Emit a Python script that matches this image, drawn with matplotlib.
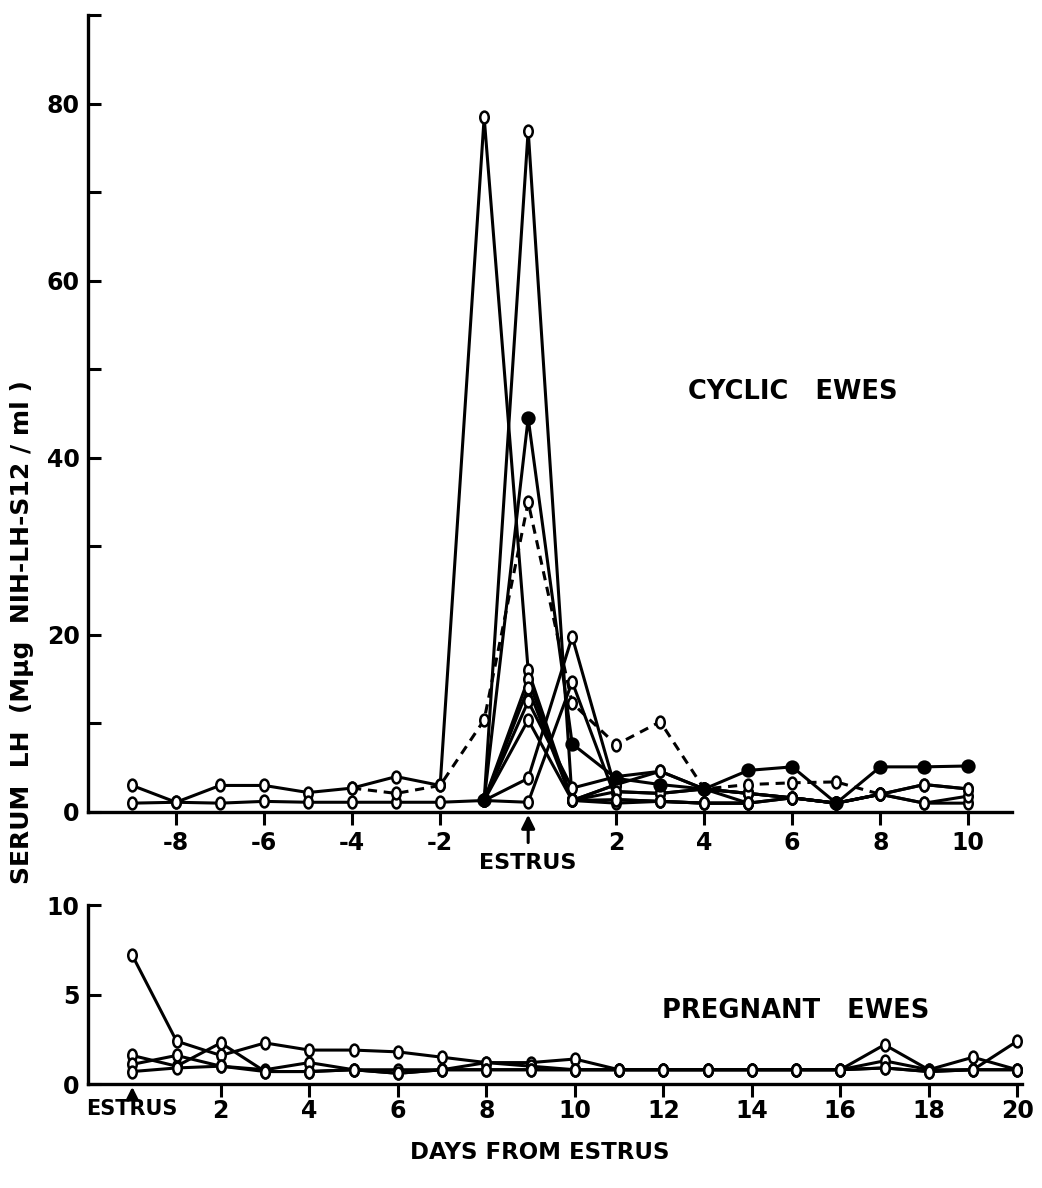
import numpy as np
import matplotlib
matplotlib.use("Agg")
import matplotlib.pyplot as plt
from matplotlib.path import Path
from matplotlib.transforms import Affine2D

nan = np.nan

# Cyclic ewes: serum LH by day from estrus (-9 .. 10)
cyclic_days = [-9, -8, -7, -6, -5, -4, -3, -2, -1, 0, 1, 2, 3, 4, 5, 6, 7, 8, 9, 10]
cyclic_a = [3.0, 1.1, 3.0, 3.0, 2.2, 2.7, 4.0, 3.0, 78.5, 16.0, 1.3, 3.1, 4.6, 2.6, 2.1, 1.6, 1.0, 2.0, 3.1, 2.6]
cyclic_b = [1.0, 1.1, 1.0, 1.2, 1.1, 1.1, 1.1, 1.1, 1.3, 77.0, 1.3, 1.0, 1.2, 1.0, 1.0, 1.6, 1.0, 2.0, 1.0, 1.0]
cyclic_dashed = [nan, nan, nan, nan, nan, 2.7, 2.1, 3.0, 10.4, 35.0, 12.3, 7.6, 10.2, 2.6, 3.1, 3.3, 3.4, 2.0, nan, nan]
cyclic_filled = [nan, nan, nan, nan, nan, nan, nan, nan, 1.3, 44.5, 7.7, 3.8, 3.1, 2.6, 4.7, 5.1, 1.0, 5.1, 5.1, 5.2]
cyclic_c = [nan, nan, nan, nan, nan, nan, nan, nan, 1.3, 15.0, 1.3, 2.3, 2.1, 2.6, 2.1, 1.6, 1.0, nan, nan, nan]
cyclic_d = [nan, nan, nan, nan, nan, nan, nan, nan, 1.3, 14.0, 1.3, 1.4, 1.2, 1.0, 1.0, nan, nan, nan, nan, nan]
cyclic_e = [nan, nan, nan, nan, nan, nan, nan, nan, 1.3, 12.5, 2.7, 4.0, 4.6, 2.6, 2.1, 1.6, 1.0, 2.0, 1.0, 1.8]
cyclic_f = [nan, nan, nan, nan, nan, nan, nan, nan, 1.3, 10.4, 1.3, 3.1, nan, nan, nan, nan, nan, nan, nan, nan]
cyclic_g = [nan, nan, nan, nan, nan, nan, nan, nan, 1.3, 3.8, 19.8, 2.3, 2.1, 2.6, 1.0, nan, nan, nan, nan, nan]
cyclic_h = [nan, nan, nan, nan, nan, nan, nan, nan, 1.3, 1.1, 14.7, 1.4, 1.2, 1.0, 1.0, 1.6, 1.0, 2.0, 3.1, 2.6]
cyclic_solid = [cyclic_a, cyclic_b, cyclic_c, cyclic_d, cyclic_e, cyclic_f, cyclic_g, cyclic_h]

# Pregnant ewes: days 0 .. 20 from estrus
pregnant_days = [0, 1, 2, 3, 4, 5, 6, 7, 8, 9, 10, 11, 12, 13, 14, 15, 16, 17, 18, 19, 20]
pregnant_a = [7.2, 2.4, 1.6, 2.3, 1.9, 1.9, 1.8, 1.5, 1.2, 1.2, 1.4, 0.8, 0.8, 0.8, 0.8, 0.8, 0.8, 2.2, 0.8, 1.5, 0.8]
pregnant_b = [1.6, 1.0, 2.3, 0.7, 0.7, 0.8, 0.6, 0.8, 1.2, 1.0, 0.8, 0.8, 0.8, 0.8, 0.8, 0.8, 0.8, 1.3, 0.8, 0.8, 2.4]
pregnant_c = [1.1, 1.6, 1.0, 0.8, 1.2, 0.8, 0.8, 0.8, 0.8, 0.8, 0.8, 0.8, 0.8, 0.8, 0.8, 0.8, 0.8, 0.9, 0.7, 0.8, 0.8]
pregnant_d = [0.7, 0.9, 1.0, 0.7, 0.7, 0.8, 0.6, 0.8, 0.8, 0.8, 0.8, 0.8, 0.8, 0.8, 0.8, 0.8, 0.8, 0.9, 0.7, 0.8, 0.8]
pregnant_series = [pregnant_a, pregnant_b, pregnant_c, pregnant_d]

top_xticks = [-8, -6, -4, -2, 2, 4, 6, 8, 10]
top_yticks = [0, 10, 20, 30, 40, 50, 60, 70, 80, 90]
top_ylabels = ['0', '', '20', '', '40', '', '60', '', '80', '']
bottom_xticks = [2, 4, 6, 8, 10, 12, 14, 16, 18, 20]
bottom_yticks = [0, 5, 10]

plt.rcParams['font.family'] = ['DejaVu Sans']
plt.rcParams['font.weight'] = 'bold'

# small upright oval, like the hand-drawn open circles
oval = Path.unit_circle().transformed(Affine2D().scale(0.72, 1.0))


def draw(ax, days, values, filled=False, dashed=False):
    ax.plot(days, values, color='black', lw=2.2,
            ls=(0, (3, 2.2)) if dashed else '-',
            marker='o' if filled else oval,
            ms=8.5 if filled else 8.5,
            mfc='black' if filled else 'white', mec='black', mew=1.8)


def style(ax, xpad):
    for side in ('top', 'right'):
        ax.spines[side].set_visible(False)
    for side in ('left', 'bottom'):
        ax.spines[side].set_linewidth(2.4)
    ax.tick_params(axis='x', direction='out', length=9, width=2.2, labelsize=17, pad=xpad)
    ax.tick_params(axis='y', direction='in', length=9, width=2.2, labelsize=17, pad=6)


fig = plt.figure(figsize=(10.42, 11.88), dpi=100)
ax1 = fig.add_axes([0.0845, 0.3165, 0.887, 0.6705])
ax2 = fig.add_axes([0.0845, 0.0875, 0.896, 0.1505])

for vals in cyclic_solid:
    draw(ax1, cyclic_days, vals)
draw(ax1, cyclic_days, cyclic_dashed, dashed=True)
draw(ax1, cyclic_days, cyclic_filled, filled=True)

ax1.set_xlim(-10, 11)
ax1.set_ylim(0, 90)
ax1.set_xticks(top_xticks)
ax1.set_xticklabels([str(t) for t in top_xticks])
ax1.set_yticks(top_yticks)
ax1.set_yticklabels(top_ylabels)
style(ax1, 5)
ax1.text(0.649, 0.527, 'CYCLIC   EWES', transform=ax1.transAxes, fontsize=18.5,
         ha='left', va='center')
ax1.annotate('', xy=(0, 0), xycoords=('data', 'axes fraction'),
             xytext=(0, -22), textcoords='offset points',
             arrowprops=dict(arrowstyle='-|>,head_length=0.5,head_width=0.25',
                             lw=2.2, color='black', shrinkA=0, shrinkB=2,
                             mutation_scale=16))
ax1.annotate('ESTRUS', xy=(0, 0), xycoords=('data', 'axes fraction'),
             xytext=(0, -37), textcoords='offset points',
             ha='center', va='center', fontsize=16)

for vals in pregnant_series:
    draw(ax2, pregnant_days, vals)
ax2.set_xlim(-1, 20.1)
ax2.set_ylim(0, 10)
ax2.set_xticks(bottom_xticks)
ax2.set_xticklabels([str(t) for t in bottom_xticks])
ax2.set_yticks(bottom_yticks)
style(ax2, 2)
ax2.text(0.615, 0.41, 'PREGNANT   EWES', transform=ax2.transAxes, fontsize=18.5,
         ha='left', va='center')
ax2.annotate('', xy=(0, 0), xycoords=('data', 'axes fraction'),
             xytext=(0, -11), textcoords='offset points',
             arrowprops=dict(arrowstyle='-|>,head_length=0.5,head_width=0.25',
                             lw=2.2, color='black', shrinkA=0, shrinkB=2,
                             mutation_scale=14))
ax2.annotate('ESTRUS', xy=(0, 0), xycoords=('data', 'axes fraction'),
             xytext=(0, -18), textcoords='offset points',
             ha='center', va='center', fontsize=15)

fig.text(0.021, 0.468, 'SERUM  LH  (M\u03bcg  NIH-LH-S12 / ml )', rotation=90,
         ha='center', va='center', fontsize=18)
fig.text(0.518, 0.030, 'DAYS FROM ESTRUS', ha='center', va='center', fontsize=16.5)

fig.savefig('out.png', dpi=100, facecolor='white')
